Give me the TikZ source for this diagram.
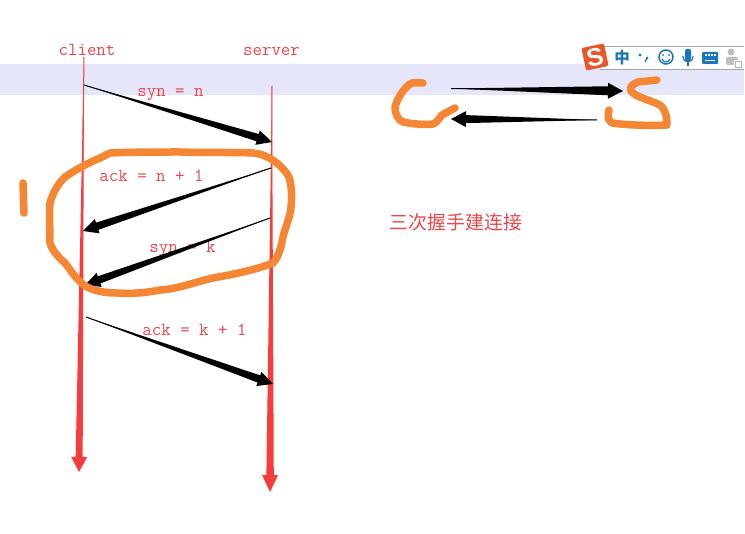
\documentclass[tikz,border=0pt]{standalone}
\usepackage{fontspec}
\newfontfamily\cjk{Noto Sans CJK SC}
\newfontfamily\barfont{Liberation Sans}
\usetikzlibrary{calc}
\definecolor{penred}{HTML}{F83C3C}
\definecolor{labelred}{HTML}{E8474C}
\definecolor{brush}{HTML}{F58634}
\definecolor{band}{HTML}{E6E6FA}
\definecolor{barblue}{HTML}{1B75BB}
\definecolor{logo}{HTML}{E9562A}
% from, to, head length, head half width, shaft half width
\newcommand{\wedgearrow}[5]{
    \coordinate (base) at ($(#2)!#3!(#1)$);
    \coordinate (neck1) at ($(base)!#5!90:(#2)$);
    \coordinate (neck2) at ($(base)!#5!-90:(#2)$);
    \coordinate (wing1) at ($(base)!#4!90:(#2)$);
    \coordinate (wing2) at ($(base)!#4!-90:(#2)$);
    \fill (#1) -- (neck1) -- (wing1) -- (#2) -- (wing2) -- (neck2) -- cycle;
    \draw[line width=1pt] (#1) -- (base);
}
\begin{document}
\begin{tikzpicture}
    [x=1pt, y=-1pt,
    label/.style={inner sep=0pt, anchor=base, text=labelred, font=\ttfamily\fontsize{18.4}{20}\selectfont},
    stroke/.style={draw=brush, line width=7.5pt, line cap=round, line join=round},
    barglyph/.style={inner sep=0pt, text=barblue}]
    \useasboundingbox (0,0) rectangle (745,534);
    \fill[white] (0,0) rectangle (745,534);
    \fill[band] (0,64) rectangle (744,95);

    % input method bar
    \fill[white] (600,46) rectangle (744,69);
    \draw[gray!70, line width=0.8pt] (600,46) -- (744,46);
    \draw[gray!70, line width=0.8pt] (600,69) -- (744,69);
    \node[fill=logo, rounded corners=2pt, rotate=12, minimum size=23pt, inner sep=0pt] (logo) at (595,57) {};
    \node[inner sep=0pt, rotate=12, text=white, font=\barfont\bfseries\fontsize{25}{25}\selectfont] (logoS) at (595,57) {S};
    \node[barglyph, font=\cjk\bfseries\fontsize{15.5}{15}\selectfont] (zhong) at (622,58) {中};
    \fill[barblue] (640,55) circle (1.7);
    \fill[barblue] (647,58) circle (1.5);
    \draw[barblue, line width=1.2pt] (647,58) -- (645,62);
    \draw[barblue, line width=1.5pt] (666,57) circle (7);
    \fill[barblue] (663,55) circle (1) (669,55) circle (1);
    \draw[barblue, line width=1.2pt] (662,59) .. controls (664,63) and (668,63) .. (670,59);
    \fill[barblue, rounded corners=2pt] (685,49) rectangle (691,61);
    \draw[barblue, line width=1.2pt] (683,56) .. controls (683,64) and (693,64) .. (693,56);
    \draw[barblue, line width=1.5pt] (688,62) -- (688,66);
    \fill[barblue, rounded corners=1pt] (702,52) rectangle (718,64);
    \foreach \x in {705,708,711,714}
        \fill[white] (\x,54.5) rectangle +(2,2);
    \fill[white] (705,60) rectangle (715,61.5);
    \fill[gray!50] (731,52) circle (3.5);
    \fill[gray!50, rounded corners=2pt] (726,65) rectangle (738,57);
    \fill[white] (734,60) rectangle (743,68);
    \draw[gray!60, line width=0.8pt] (735.5,61) rectangle (741,67);

    % ends of the arrows
    \coordinate (clienttop) at (84,57);
    \coordinate (clientend) at (79,472);
    \coordinate (servertop) at (272,86);
    \coordinate (serverend) at (270,492);
    \coordinate (syna) at (84,85);
    \coordinate (synb) at (272,142);
    \coordinate (acka) at (271,168);
    \coordinate (ackb) at (83,231);
    \coordinate (synka) at (270,218);
    \coordinate (synkb) at (85,285);
    \coordinate (ackka) at (86,317);
    \coordinate (ackkb) at (273,384);
    \coordinate (fwda) at (451,88.5);
    \coordinate (fwdb) at (623,91);
    \coordinate (backa) at (597,120);
    \coordinate (backb) at (451,119);

    \begin{scope}[penred]
    \wedgearrow{clienttop}{clientend}{15pt}{8pt}{3.5pt}
    \wedgearrow{servertop}{serverend}{17pt}{8pt}{3.7pt}
    \end{scope}

    \node[label] (client) at (87,56) {client};
    \node[label] (server) at (271.5,56) {server};
    \node[label] (synn) at (170.5,97) {syn = n};
    \node[label] (ackn) at (151.5,182) {ack = n + 1};
    \node[label] (synk) at (182.5,253) {syn = k};
    \node[label] (ackk) at (194.5,336) {ack = k + 1};
    \node[inner sep=0pt, text=labelred, font=\cjk\fontsize{18.9}{20}\selectfont] (handshake) at (456,222) {三次握手建连接};

    \wedgearrow{syna}{synb}{15pt}{7.5pt}{3.8pt}
    \wedgearrow{acka}{ackb}{15pt}{7.5pt}{3.8pt}
    \wedgearrow{synka}{synkb}{15pt}{7.5pt}{3.8pt}
    \wedgearrow{ackka}{ackkb}{15pt}{7.5pt}{3.8pt}
    \wedgearrow{fwda}{fwdb}{15pt}{8pt}{4.5pt}
    \wedgearrow{backa}{backb}{15pt}{8pt}{4pt}

    % brush marks
    \draw[stroke] (110,153) .. controls (130,152) and (160,152) .. (180,152)
        .. controls (205,153) and (235,152) .. (253,153)
        .. controls (268,154) and (282,165) .. (289,177)
        .. controls (292,187) and (292,198) .. (291,207)
        .. controls (290,218) and (285,228) .. (283,237)
        .. controls (281,248) and (278,258) .. (273,263)
        .. controls (255,270) and (235,274) .. (213,278)
        .. controls (195,282) and (178,289) .. (160,290)
        .. controls (145,293) and (130,294) .. (117,293)
        .. controls (105,293) and (95,291) .. (87,287)
        .. controls (78,282) and (71,271) .. (65,263)
        .. controls (58,257) and (52,250) .. (50,243)
        .. controls (50,230) and (49,215) .. (50,203)
        .. controls (53,192) and (58,184) .. (65,177)
        .. controls (75,170) and (88,163) .. (100,158)
        -- cycle;
    \draw[stroke] (23,183) -- (24,213);
    \draw[stroke] (423,83) -- (412,83) .. controls (405,86) and (398,97) .. (395,107)
        .. controls (395,114) and (398,120) .. (403,122)
        .. controls (412,124) and (425,125) .. (433,124)
        .. controls (438,122) and (439,118) .. (442,115) -- (455,108);
    \draw[stroke] (657,80) -- (638,82) .. controls (632,84) and (629,88) .. (631,91)
        .. controls (635,97) and (650,100) .. (660,105)
        .. controls (666,110) and (667,118) .. (667,125)
        .. controls (650,126) and (625,125) .. (612,123)
        .. controls (607,120) and (608,115) .. (609,110);
\end{tikzpicture}
\end{document}
